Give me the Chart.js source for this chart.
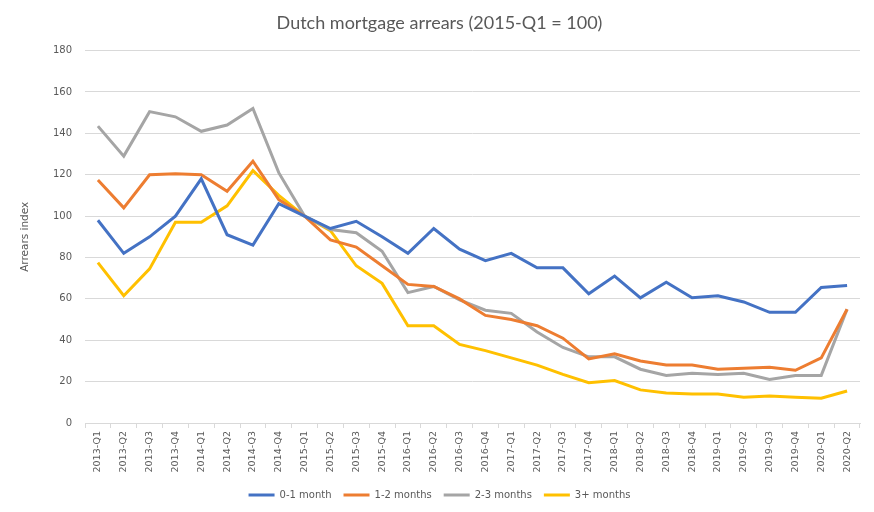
<!DOCTYPE html>
<html>
<head>
<meta charset="utf-8">
<script src="https://cdn.jsdelivr.net/npm/chart.js@4"></script>
<style>
html,body{margin:0;padding:0;background:#fff;}
#wrap{width:874px;height:512px;}
</style>
</head>
<body>
<div id="wrap"><canvas id="c" width="874" height="512"></canvas></div>
<script>
const categories = ["2013-Q1","2013-Q2","2013-Q3","2013-Q4","2014-Q1","2014-Q2","2014-Q3","2014-Q4","2015-Q1","2015-Q2","2015-Q3","2015-Q4","2016-Q1","2016-Q2","2016-Q3","2016-Q4","2017-Q1","2017-Q2","2017-Q3","2017-Q4","2018-Q1","2018-Q2","2018-Q3","2018-Q4","2019-Q1","2019-Q2","2019-Q3","2019-Q4","2020-Q1","2020-Q2"];
const month0to1 = [98,82,90,100,118,91,86,106,100,94,97.5,90,82,94,84,78.5,82,75,75,62.5,71,60.5,68,60.5,61.5,58.5,53.5,53.5,65.5,66.5];
const month1to2 = [117.5,104,120,120.5,120,112,126.5,108,100,88.5,85,76,67,66,60,52,50,47,41,31,33.5,30,28,28,26,26.5,27,25.5,31.5,55];
const month2to3 = [143.5,129,150.5,148,141,144,152,121,100,93.5,92,83,63,66,59.5,54.5,53,44,36.5,32,32,26,23,24,23.5,24,21,23,23,55];
const month3plus = [77.5,61.5,74.5,97,97,105,122,110,100,93,76,67.5,47,47,38,35,31.5,28,23.5,19.5,20.5,16,14.5,14,14,12.5,13,12.5,12,15.5];
const seriesNames = ["0-1 month","1-2 months","2-3 months","3+ months"];
const yTicks = [0,20,40,60,80,100,120,140,160,180];

const colors = ["#4472C4","#ED7D31","#A5A5A5","#FFC000"];
const txt = "#595959";
const grid = "#d9d9d9";

const mk = (i, data) => ({
  label: seriesNames[i], data: data, borderColor: colors[i], backgroundColor: colors[i],
  borderWidth: 3, pointRadius: 0, pointHoverRadius: 0, tension: 0, fill: false
});

new Chart(document.getElementById('c'), {
  type: 'line',
  data: {
    labels: categories,
    datasets: [mk(0, month0to1), mk(1, month1to2), mk(2, month2to3), mk(3, month3plus)]
  },
  options: {
    responsive: false,
    animation: false,
    layout: { padding: { left: 19, right: 14, top: 8, bottom: 2 } },
    plugins: {
      title: {
        display: true, text: "Dutch mortgage arrears (2015-Q1 = 100)",
        color: txt, font: { family: "Lato", size: 18, weight: 'normal' },
        padding: { top: 4, bottom: 17 }
      },
      legend: {
        position: 'bottom',
        labels: {
          color: txt, font: { family: "DejaVu Sans", size: 10 },
          boxWidth: 26, boxHeight: 3, padding: 12,
          generateLabels: (chart) => chart.data.datasets.map((d, i) => ({
            text: d.label, fillStyle: d.borderColor, strokeStyle: d.borderColor,
            lineWidth: 0, fontColor: txt, datasetIndex: i
          }))
        }
      },
      tooltip: { enabled: false }
    },
    scales: {
      x: {
        offset: true,
        afterFit: (s) => { s.height = 55; },
        grid: { display: true, drawOnChartArea: false, drawTicks: true, tickLength: 5, color: grid, offset: true },
        border: { display: true, color: grid, width: 1 },
        ticks: { color: txt, font: { family: "DejaVu Sans", size: 9.5 }, maxRotation: 90, minRotation: 90, autoSkip: false, padding: 3 }
      },
      y: {
        min: 0, max: 180,
        afterBuildTicks: (s) => { s.ticks = yTicks.map(v => ({ value: v })); },
        afterFit: (s) => { s.width = 66; },
        grid: { color: grid, drawTicks: false },
        border: { display: false },
        ticks: { color: txt, font: { family: "DejaVu Sans", size: 10 }, padding: 13 },
        title: { display: true, text: "Arrears index", color: txt, font: { family: "DejaVu Sans", size: 10.5 }, padding: { top: 0, bottom: 4 } }
      }
    }
  }
});
</script>
</body>
</html>
